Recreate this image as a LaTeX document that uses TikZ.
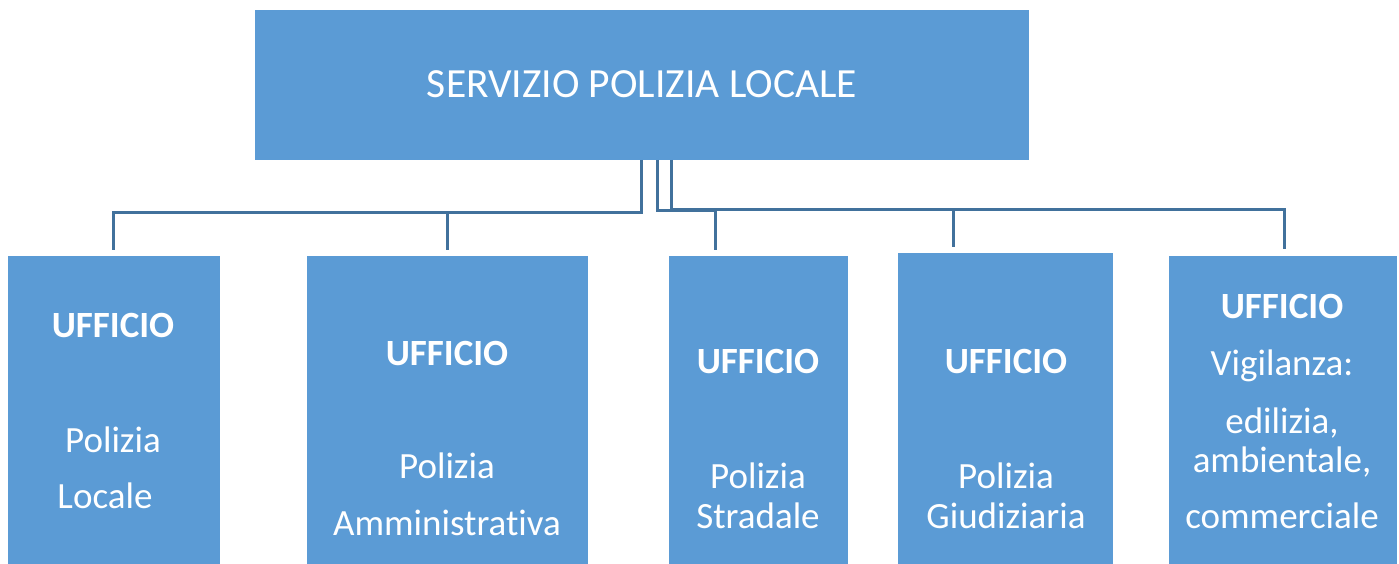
\documentclass[tikz,border=0pt]{standalone}
\usepackage{fontspec}
\setmainfont[RawFeature={-liga}]{Carlito}
\definecolor{boxblue}{HTML}{5B9BD5}
\definecolor{lineblue}{HTML}{41719C}
\tikzset{
  box/.style={fill=boxblue, draw=none, inner sep=0pt, anchor=north west},
  conn/.style={draw=lineblue, line width=3pt},
  lbl/.style={text=white, anchor=base, inner sep=0pt, font=\fontsize{37}{44}\selectfont},
  blbl/.style={lbl, font=\fontsize{37}{44}\selectfont\bfseries},
}
\begin{document}
\begin{tikzpicture}[x=1pt,y=-1pt]
\useasboundingbox (0,0) rectangle (1399,564);
% boxes
\node[box, minimum width=774pt, minimum height=150pt] (top) at (255,10) {};
\node[box, minimum width=212pt, minimum height=308pt] (b1) at (8,256) {};
\node[box, minimum width=281pt, minimum height=308pt] (b2) at (307,256) {};
\node[box, minimum width=179pt, minimum height=308pt] (b3) at (669,256) {};
\node[box, minimum width=215pt, minimum height=311pt] (b4) at (898,253) {};
\node[box, minimum width=228pt, minimum height=308pt] (b5) at (1169,256) {};
% title
\node[lbl, font=\fontsize{41.5}{48}\selectfont] (title) at (642,98) {SERVIZIO POLIZIA LOCALE};
% connector anchors
\coordinate (tA) at (641,160);
\coordinate (tB) at (657,160);
\coordinate (tC) at (671,160);
\coordinate (e1) at (113,250);
\coordinate (e2) at (447,250);
\coordinate (e3) at (715,250);
\coordinate (e4) at (953,247);
\coordinate (e5) at (1284,249);
\draw[conn] (tA) -- (tA |- 0,212) -| (e1);
\draw[conn] (e2 |- 0,212) -- (e2);
\draw[conn] (tB) -- (tB |- 0,210) -| (e3);
\draw[conn] (tC) -- (tC |- 0,209) -| (e5);
\draw[conn] (e4 |- 0,209) -- (e4);
% box 1
\node[blbl] (u1) at (113,337) {UFFICIO};
\node[lbl] (p1) at (113,452) {Polizia};
\node[lbl] (q1) at (105,508) {Locale};
% box 2
\node[blbl] (u2) at (447,365) {UFFICIO};
\node[lbl] (p2) at (447,478) {Polizia};
\node[lbl] (q2) at (447,535) {Amministrativa};
% box 3
\node[blbl] (u3) at (758,373) {UFFICIO};
\node[lbl] (p3) at (758,488) {Polizia};
\node[lbl] (q3) at (758,528) {Stradale};
% box 4
\node[blbl] (u4) at (1006,373) {UFFICIO};
\node[lbl] (p4) at (1006,488) {Polizia};
\node[lbl] (q4) at (1006,528) {Giudiziaria};
% box 5
\node[blbl] (u5) at (1282,318) {UFFICIO};
\node[lbl] (v5) at (1282,375) {Vigilanza:};
\node[lbl] (d5) at (1282,433) {edilizia,};
\node[lbl] (a5) at (1282,472) {ambientale,};
\node[lbl] (c5) at (1282,528) {commerciale};
\end{tikzpicture}
\end{document}
